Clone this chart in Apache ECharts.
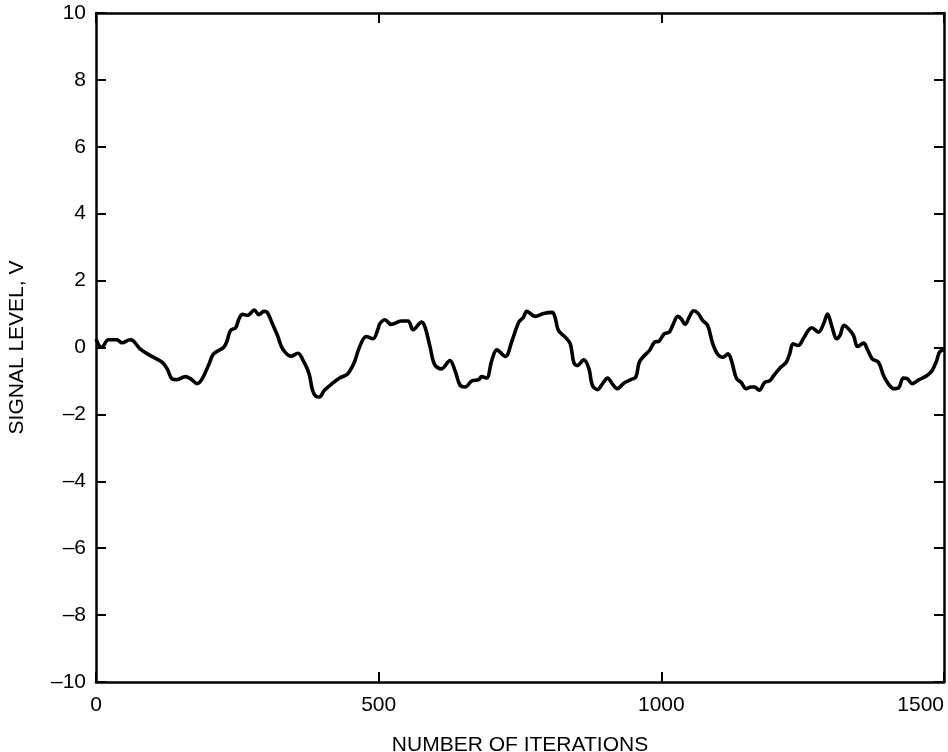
<!DOCTYPE html>
<html>
<head>
<meta charset="utf-8">
<title>Signal level vs. number of iterations</title>
<script src="https://cdn.jsdelivr.net/npm/echarts@6/dist/echarts.min.js"></script>
<style>
  html, body { margin: 0; padding: 0; background: #fff; }
  #chart { width: 948px; height: 752px; }
</style>
</head>
<body>
<div id="chart"></div>
<script>
// Signal samples: iteration number and signal level (V)
const iterations = [
  0, 10, 22, 37, 46, 60, 66, 78, 96, 117, 126, 134, 143, 158, 167, 179, 188, 200, 208, 226,
  232, 238, 247, 253, 259, 268, 280, 288, 297, 303, 312, 321, 330, 345, 357, 368, 377, 383, 389, 395,
  404, 419, 431, 445, 457, 466, 478, 490, 499,
  502, 511, 522, 540, 552, 561, 576, 582, 591, 599, 611, 626, 635, 644, 653, 665, 677, 682, 691, 700,
  709, 724, 736, 748, 756, 762, 777, 792, 807, 812, 818, 830, 839, 845, 851, 863, 872, 878, 887, 896,
  905, 913, 922, 934, 946, 955, 961, 970, 979, 988,
  996, 1005, 1014, 1020, 1029, 1035, 1042, 1050, 1057, 1065, 1073, 1082, 1091, 1100, 1109, 1118, 1124, 1133, 1141, 1150,
  1159, 1165, 1173, 1183, 1192, 1200, 1210, 1221, 1227, 1233, 1242, 1251, 1260, 1266, 1278, 1287, 1294, 1302, 1310, 1316,
  1323, 1331, 1340, 1347, 1358, 1364, 1373, 1384, 1393, 1402, 1411, 1420, 1428, 1435, 1444, 1456, 1470, 1479, 1487, 1492,
  1500
];
const signal = [
  0.25, 0.0, 0.23, 0.23, 0.14, 0.23, 0.2, -0.04, -0.24, -0.44, -0.64, -0.93, -0.96, -0.87, -0.93, -1.08, -0.93, -0.49, -0.19, 0.01,
  0.21, 0.51, 0.59, 0.86, 0.99, 0.96, 1.12, 0.98, 1.08, 1.05, 0.71, 0.36, -0.04, -0.26, -0.17, -0.44, -0.79, -1.28, -1.46, -1.48,
  -1.28, -1.06, -0.91, -0.79, -0.44, 0.01, 0.33, 0.26, 0.56,
  0.71, 0.83, 0.69, 0.79, 0.79, 0.53, 0.76, 0.61, 0.01, -0.51, -0.64, -0.39, -0.69, -1.13, -1.18, -1.0, -0.96, -0.87, -0.91, -0.39,
  -0.07, -0.27, 0.21, 0.76, 0.9, 1.08, 0.93, 1.02, 1.05, 0.9, 0.51, 0.31, 0.11, -0.44, -0.54, -0.37, -0.64, -1.13, -1.26, -1.08,
  -0.91, -1.08, -1.23, -1.06, -0.96, -0.88, -0.44, -0.24, -0.09, 0.16,
  0.19, 0.41, 0.46, 0.66, 0.93, 0.86, 0.69, 0.93, 1.1, 1.02, 0.81, 0.66, 0.11, -0.21, -0.29, -0.19, -0.39, -0.93, -1.04, -1.23,
  -1.18, -1.18, -1.28, -1.04, -0.99, -0.81, -0.61, -0.44, -0.19, 0.11, 0.06, 0.26, 0.51, 0.59, 0.46, 0.71, 1.0, 0.61, 0.26, 0.36,
  0.66, 0.56, 0.36, 0.03, 0.13, -0.04, -0.34, -0.44, -0.84, -1.1, -1.23, -1.2, -0.91, -0.93, -1.08, -0.96, -0.84, -0.69, -0.39, -0.14,
  -0.07
];

// Axis ranges and tick labels
const xTicks = [0, 500, 1000, 1500];
const yTicks = [-10, -8, -6, -4, -2, 0, 2, 4, 6, 8, 10];

const FONT = '"Liberation Sans", Arial, Helvetica, sans-serif';
const INK = '#000';

const points = iterations.map((x, i) => [x, signal[i]]);
const dash = v => String(v).replace('-', '\u2013');

const frameLine = { show: true, onZero: false, lineStyle: { color: INK, width: 2.5 } };
const innerTick = { show: true, inside: true, length: 10, lineStyle: { color: INK, width: 2 } };

const chart = echarts.init(document.getElementById('chart'), null, { renderer: 'canvas' });
chart.setOption({
  animation: false,
  backgroundColor: '#fff',
  grid: { left: 96, right: 4, top: 13, bottom: 70, containLabel: false, outerBoundsMode: 'none' },
  xAxis: [
    {
      type: 'value',
      min: xTicks[0], max: xTicks[xTicks.length - 1], interval: 500,
      position: 'bottom',
      name: 'NUMBER OF ITERATIONS',
      nameLocation: 'middle', nameGap: 53,
      nameTextStyle: { color: INK, fontFamily: FONT, fontSize: 21 },
      axisLine: frameLine,
      axisTick: innerTick,
      axisLabel: { color: INK, fontFamily: FONT, fontSize: 21, margin: 13, alignMaxLabel: 'right', formatter: dash },
      splitLine: { show: false }
    },
    {
      type: 'value',
      min: xTicks[0], max: xTicks[xTicks.length - 1], interval: 500,
      position: 'top',
      axisLine: frameLine,
      axisTick: innerTick,
      axisLabel: { show: false },
      splitLine: { show: false }
    }
  ],
  yAxis: [
    {
      type: 'value',
      min: yTicks[0], max: yTicks[yTicks.length - 1], interval: 2,
      position: 'left',
      name: 'SIGNAL LEVEL, V',
      nameLocation: 'middle', nameGap: 68, nameRotate: 90,
      nameTextStyle: { color: INK, fontFamily: FONT, fontSize: 21 },
      axisLine: frameLine,
      axisTick: innerTick,
      axisLabel: { color: INK, fontFamily: FONT, fontSize: 21, margin: 10, formatter: dash },
      splitLine: { show: false }
    },
    {
      type: 'value',
      min: yTicks[0], max: yTicks[yTicks.length - 1], interval: 2,
      position: 'right',
      axisLine: frameLine,
      axisTick: innerTick,
      axisLabel: { show: false },
      splitLine: { show: false }
    }
  ],
  series: [
    {
      type: 'line',
      xAxisIndex: 0,
      yAxisIndex: 0,
      data: points,
      smooth: 0.35,
      showSymbol: false,
      lineStyle: { color: INK, width: 3.6 }
    }
  ]
});
</script>
</body>
</html>
